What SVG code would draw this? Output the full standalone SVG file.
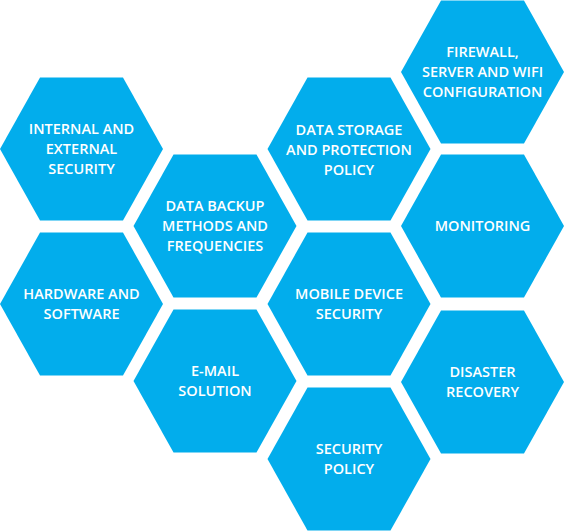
<svg xmlns="http://www.w3.org/2000/svg" xmlns:xlink="http://www.w3.org/1999/xlink" width="565" height="532" viewBox="0 0 565 532">
<style>
.hex{fill:#02adec}
text{font-family:"Open Sans","Noto Sans",sans-serif;font-weight:600;font-size:14.5px;fill:#ffffff;text-anchor:middle}
</style>
<defs>
<polygon id="h" points="-81.5,0 -41.5,-71.5 41.5,-71.5 81.5,0 41.5,71.5 -41.5,71.5"/>
</defs>
<rect width="565" height="532" fill="#ffffff"/>
<g id="connectors"/>
<g id="n1" transform="translate(81.5,149)"><use xlink:href="#h" class="hex"/><text y="-15">INTERNAL AND</text><text y="5">EXTERNAL</text><text y="25">SECURITY</text></g>
<g id="n2" transform="translate(81.5,304)"><use xlink:href="#h" class="hex"/><text y="-5">HARDWARE AND</text><text y="15">SOFTWARE</text></g>
<g id="n3" transform="translate(215,226)"><use xlink:href="#h" class="hex"/><text y="-15">DATA BACKUP</text><text y="5">METHODS AND</text><text y="25">FREQUENCIES</text></g>
<g id="n4" transform="translate(215,381)"><use xlink:href="#h" class="hex"/><text y="-5">E-MAIL</text><text y="15">SOLUTION</text></g>
<g id="n5" transform="translate(349,149)"><use xlink:href="#h" class="hex"/><text y="-14">DATA STORAGE</text><text y="6">AND PROTECTION</text><text y="26">POLICY</text></g>
<g id="n6" transform="translate(349,304)"><use xlink:href="#h" class="hex"/><text y="-5">MOBILE DEVICE</text><text y="15">SECURITY</text></g>
<g id="n7" transform="translate(349,459)"><use xlink:href="#h" class="hex"/><text y="-5">SECURITY</text><text y="15">POLICY</text></g>
<g id="n8" transform="translate(482.5,72)"><use xlink:href="#h" class="hex"/><text y="-15">FIREWALL,</text><text y="5">SERVER AND WIFI</text><text y="25">CONFIGURATION</text></g>
<g id="n9" transform="translate(482.5,226)"><use xlink:href="#h" class="hex"/><text y="5">MONITORING</text></g>
<g id="n10" transform="translate(482.5,382)"><use xlink:href="#h" class="hex"/><text y="-5">DISASTER</text><text y="15">RECOVERY</text></g>
</svg>
